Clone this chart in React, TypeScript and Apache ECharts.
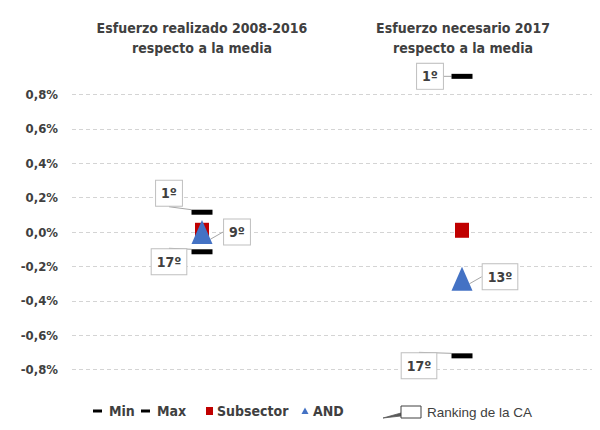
import React, { useEffect, useRef } from "react";
import * as echarts from "echarts";

const categories = ["Esfuerzo realizado 2008-2016", "Esfuerzo necesario 2017"];
const titles = [
  "Esfuerzo realizado 2008-2016\nrespecto a la media",
  "Esfuerzo necesario 2017\nrespecto a la media",
];
const minValues = [-0.115, -0.72];
const maxValues = [0.115, 0.905];
const subsectorValues = [0.01, 0.01];
const andValues = [0.0, -0.272];
const minRanks = ["17º", "17º"];
const maxRanks = ["1º", "1º"];
const andRanks = ["9º", "13º"];

const NARROW = '"Liberation Sans Narrow", "DejaVu Sans Condensed", "Arial Narrow", sans-serif';
const TEXT = "#404040";

export default function App() {
  const ref = useRef<HTMLDivElement>(null);
  useEffect(() => {
    if (!ref.current) return;
    const chart = echarts.init(ref.current, undefined, { renderer: "svg" });

    const maxOffsets = [[-33, -19], [-32, 0]];
    const minOffsets = [[-33, 10], [-43, 10]];
    const andOffsets = [[35, 0], [38, -2]];

    const mkSeries = (
      name: string,
      vals: number[],
      ranks: string[] | null,
      offsets: number[][] | null,
      symbol: string,
      symbolSize: number[],
      color: string,
      z: number
    ): any => {
      const s: any = {
        name,
        type: "scatter",
        symbol,
        symbolSize,
        itemStyle: { color, opacity: 1 },
        z,
        data: vals.map((v, i) => [i, v]),
      };
      if (ranks && offsets) {
        s.label = {
          show: true,
          position: "inside",
          fontFamily: NARROW,
          fontWeight: "bold",
          fontSize: 14,
          color: TEXT,
          backgroundColor: "#ffffff",
          borderColor: "#bfbfbf",
          borderWidth: 1,
          padding: [6, 5, 5, 5],
          formatter: (p: any) => ranks[p.dataIndex],
        };
        s.labelLine = { show: true, lineStyle: { color: "#a6a6a6", width: 1 } };
        s.labelLayout = (p: any) => ({
          dx: offsets[p.dataIndex][0],
          dy: offsets[p.dataIndex][1],
        });
      }
      return s;
    };

    const ly = 411;
    const lf = `bold 14px ${NARROW}`;
    const legendGraphic: any[] = [
      { type: "rect", shape: { x: 93, y: ly - 1.5, width: 9, height: 3 }, style: { fill: "#000" } },
      { type: "text", x: 109, y: ly, style: { text: "Min", font: lf, fill: TEXT, verticalAlign: "middle" } },
      { type: "rect", shape: { x: 141, y: ly - 1.5, width: 9, height: 3 }, style: { fill: "#000" } },
      { type: "text", x: 157, y: ly, style: { text: "Max", font: lf, fill: TEXT, verticalAlign: "middle" } },
      { type: "rect", shape: { x: 206, y: ly - 4, width: 7, height: 8 }, style: { fill: "#c00000" } },
      { type: "text", x: 217, y: ly, style: { text: "Subsector", font: lf, fill: TEXT, verticalAlign: "middle" } },
      { type: "polygon", shape: { points: [[305, ly - 3.5], [301.5, ly + 3], [308.5, ly + 3]] }, style: { fill: "#4472c4" } },
      { type: "text", x: 313, y: ly, style: { text: "AND", font: lf, fill: TEXT, verticalAlign: "middle" } },
      { type: "polygon", shape: { points: [[383, ly + 7], [401, ly + 2], [401, ly + 5]] }, style: { fill: "#595959", stroke: "#595959", lineWidth: 0.8 } },
      { type: "rect", shape: { x: 401, y: ly - 5, width: 20, height: 12 }, style: { fill: "#fff", stroke: "#404040", lineWidth: 1 } },
      { type: "text", x: 427, y: ly + 1, style: { text: "Ranking de la CA", font: `13.5px "Liberation Sans", Arial, sans-serif`, fill: TEXT, verticalAlign: "middle" } },
    ];

    const titleGraphic = titles.map((t, i) => ({
      type: "text",
      x: [202, 463][i],
      y: 38,
      style: {
        text: t,
        font: `bold 14px ${NARROW}`,
        fill: TEXT,
        align: "center",
        verticalAlign: "middle",
        lineHeight: 20,
      },
    }));

    chart.setOption({
      animation: false,
      backgroundColor: "#ffffff",
      grid: { left: 72, right: 8, top: 60, bottom: 26 },
      xAxis: {
        type: "category",
        data: categories,
        boundaryGap: true,
        axisLine: { show: false },
        axisTick: { show: false },
        axisLabel: { show: false },
        splitLine: { show: false },
      },
      yAxis: {
        type: "value",
        min: -1,
        max: 1,
        interval: 0.2,
        axisLine: { show: false },
        axisTick: { show: false },
        axisLabel: {
          margin: 14,
          fontFamily: NARROW,
          fontWeight: "bold",
          fontSize: 13,
          color: TEXT,
          formatter: (v: number) =>
            Math.abs(v) > 0.95 ? "" : (Math.abs(v) < 1e-9 ? 0 : v).toFixed(1).replace(".", ",") + "%",
        },
        splitLine: {
          show: true,
          lineStyle: {
            type: [4, 3],
            width: 1,
            color: [
              "rgba(0,0,0,0)",
              "#d4d4d4", "#d4d4d4", "#d4d4d4", "#d4d4d4", "#d4d4d4",
              "#d4d4d4", "#d4d4d4", "#d4d4d4", "#d4d4d4",
            ],
          },
        },
      },
      graphic: [...titleGraphic, ...legendGraphic],
      series: [
        mkSeries("Subsector", subsectorValues, null, null, "rect", [14, 15], "#c00000", 2),
        mkSeries("AND", andValues, andRanks, andOffsets, "triangle", [21, 24], "#4472c4", 3),
        mkSeries("Max", maxValues, maxRanks, maxOffsets, "rect", [21, 5], "#000000", 4),
        mkSeries("Min", minValues, minRanks, minOffsets, "rect", [21, 5], "#000000", 4),
      ],
    });
    return () => chart.dispose();
  }, []);
  return (
    <div
      ref={ref}
      style={{ position: "absolute", left: 0, top: 0, width: 600, height: 430 }}
    />
  );
}
